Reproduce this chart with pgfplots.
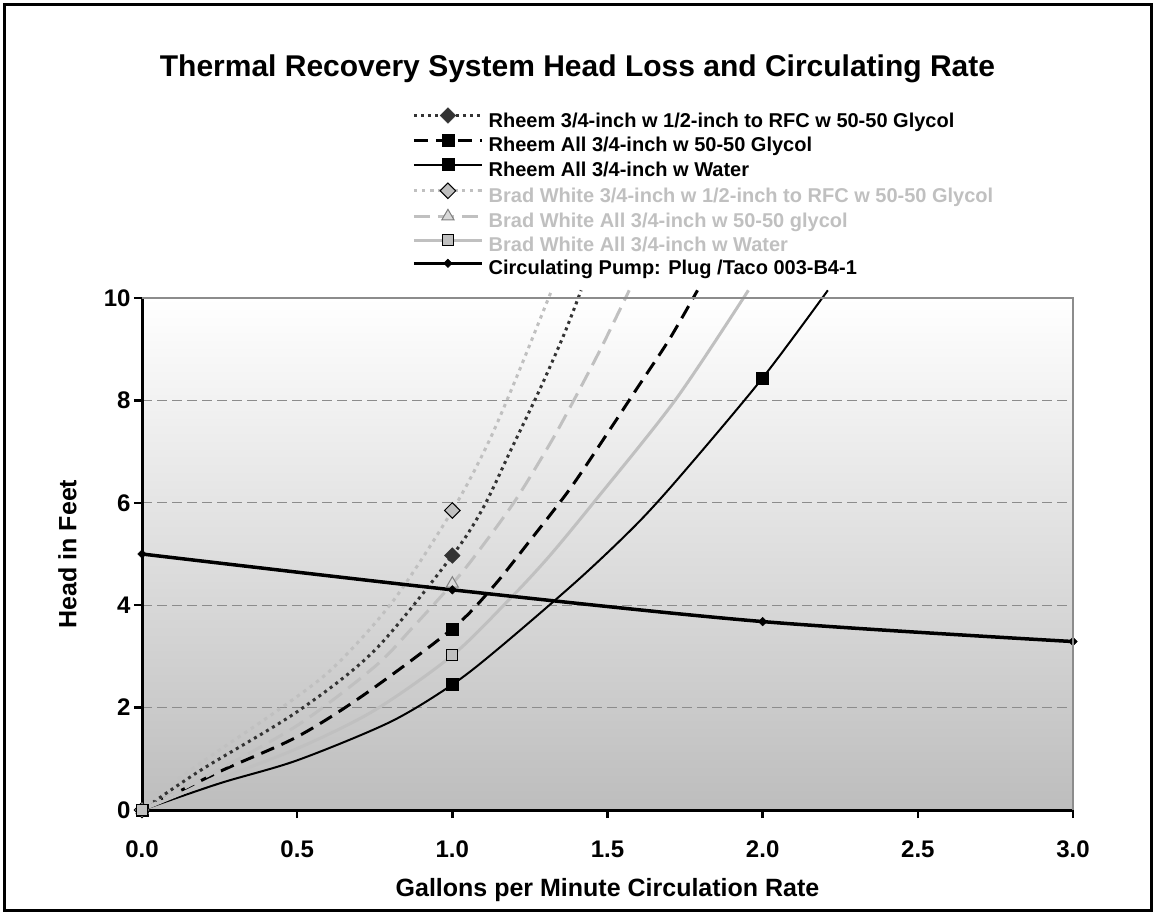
\documentclass[border=0pt]{standalone}
\usepackage{fontspec}
\setmainfont{Liberation Sans}
\usepackage{pgfplots}
\pgfplotsset{compat=1.18}
\definecolor{lg}{HTML}{C0C0C0}
\definecolor{dg}{HTML}{333333}
\definecolor{gridc}{HTML}{8C8C8C}
\definecolor{bgb}{HTML}{BDBDBD}
\begin{document}
\begin{tikzpicture}[x=1pt,y=1pt]
\useasboundingbox (0,0) rectangle (1154,914);
\draw[line width=3pt] (4.5,4) rectangle (1151.5,909.7);
\node[font=\fontsize{30}{34}\selectfont\bfseries, anchor=base] at (577.5,837.3) {Thermal Recovery System Head Loss and Circulating Rate};
\begin{axis}[
  at={(142pt,104pt)}, anchor=south west,
  scale only axis, width=931pt, height=512pt,
  xmin=0, xmax=3, ymin=0, ymax=10,
  clip=false,
  axis x line*=bottom, axis y line*=left,
  axis line style={black, line width=3pt, -},
  axis background/.style={shade, top color=white, bottom color=bgb},
  xtick={0,0.5,1,1.5,2,2.5,3},
  xticklabels={0.0,0.5,1.0,1.5,2.0,2.5,3.0},
  ytick={0,2,4,6,8,10},
  yticklabels={0,2,4,6,8,10},
  tick align=outside, major tick length=8pt,
  tick style={black, line width=2.5pt},
  ticklabel style={font=\fontsize{24}{28}\selectfont\bfseries},
  xticklabel style={yshift=-19pt},
  yticklabel style={xshift=0pt},
  ymajorgrids,
  major grid style={gridc, line width=1pt, dash pattern=on 10pt off 5pt},
  xlabel={Gallons per Minute Circulation Rate},
  ylabel={Head in Feet},
  label style={font=\fontsize{25}{29}\selectfont\bfseries},
  xlabel style={at={(axis description cs:0.5,-0.1699)}, anchor=base},
  ylabel style={at={(axis description cs:-0.0705,0.5)}, anchor=base},
  legend cell align=left,
  legend style={at={(axis description cs:0.290,1.372)}, anchor=north west,
    draw=none, fill=none, inner sep=0pt, column sep=5pt,
    font=\fontsize{20}{23}\selectfont\bfseries,
    nodes={inner sep=0pt, text height=16pt, text depth=7pt}},
  legend image code/.code={\draw[#1,mark indices={2}] plot coordinates {(0pt,7pt) (34pt,7pt) (68pt,7pt)};},
  after end axis/.code={\draw[gridc, line width=1.5pt] (rel axis cs:0,1) -- (rel axis cs:1,1) -- (rel axis cs:1,0);},
]
% Rheem 3/4 w 1/2 to RFC glycol
\addplot[dg, line width=3pt, dash pattern=on 3pt off 4pt, smooth,
  mark=square*, mark size=5.5pt, mark indices={1,5},
  mark options={solid, rotate=45, fill=dg, draw=dg, line width=0.5pt}]
  coordinates {(0,0) (0.19,0.78) (0.5,1.92) (0.75,3.12) (1.0,4.97) (1.1,5.91) (1.19,7.05) (1.28,8.19) (1.36,9.29) (1.415,10.15)};
\addlegendentry{Rheem 3/4-inch w 1/2-inch to RFC w 50-50 Glycol}
% Rheem all 3/4 glycol
\addplot[black, line width=3pt, dash pattern=on 14pt off 8pt, smooth,
  mark=square*, mark size=6pt, mark indices={1,5},
  mark options={solid, fill=black, line width=0.5pt}]
  coordinates {(0,0) (0.25,0.75) (0.5,1.43) (0.72,2.27) (1.0,3.54) (1.13,4.35) (1.25,5.26) (1.38,6.28) (1.5,7.36) (1.6,8.28) (1.7,9.2) (1.79,10.15)};
\addlegendentry{Rheem All 3/4-inch w 50-50 Glycol}
% Rheem all 3/4 water
\addplot[black, line width=2pt, smooth,
  mark=square*, mark size=6pt, mark indices={1,5,10},
  mark options={solid, fill=black, line width=0.5pt}]
  coordinates {(0,0) (0.25,0.52) (0.5,0.97) (0.8,1.72) (1.0,2.45) (1.15,3.16) (1.41,4.52) (1.6,5.62) (1.75,6.63) (2.0,8.44) (2.21,10.15)};
\addlegendentry{Rheem All 3/4-inch w Water}
% Brad White 3/4 w 1/2 to RFC glycol
\addplot[lg, line width=3pt, dash pattern=on 3.5pt off 4.5pt, smooth,
  mark=square*, mark size=5.5pt, mark indices={1,6},
  mark options={solid, rotate=45, fill=lg, draw=black, line width=1pt}]
  coordinates {(0,0) (0.15,0.75) (0.45,2.0) (0.62,2.8) (0.81,4.09) (1.0,5.85) (1.11,7.1) (1.2,8.35) (1.32,10.15)};
\addlegendentry{\textcolor{lg}{Brad White 3/4-inch w 1/2-inch to RFC w 50-50 Glycol}}
% Brad White all 3/4 glycol
\addplot[lg, line width=3pt, dash pattern=on 16pt off 8pt, smooth,
  mark=triangle*, mark size=7pt, mark indices={1,6},
  mark options={solid, fill=lg!60!white, draw=gray, line width=1pt}]
  coordinates {(0,0) (0.19,0.6) (0.5,1.65) (0.75,2.8) (0.87,3.55) (1.0,4.42) (1.07,4.94) (1.2,6.02) (1.32,7.21) (1.4,8.1) (1.48,9.03) (1.57,10.15)};
\addlegendentry{\textcolor{lg}{Brad White All 3/4-inch w 50-50 glycol}}
% Brad White all 3/4 water
\addplot[lg, line width=3pt, smooth,
  mark=square*, mark size=5.5pt, mark indices={1,5},
  mark options={solid, fill=lg, draw=black, line width=1pt}]
  coordinates {(0,0) (0.2,0.5) (0.5,1.2) (0.75,1.95) (1.0,3.02) (1.18,4.09) (1.31,4.94) (1.46,6.04) (1.72,8.02) (1.954,10.15)};
\addlegendentry{\textcolor{lg}{Brad White All 3/4-inch w Water}}
% Circulating pump
\addplot[black, line width=3.5pt, smooth,
  mark=square*, mark size=3pt,
  mark options={solid, rotate=45, fill=black, line width=0.5pt}]
  coordinates {(0,5.0) (1,4.3) (2,3.68) (3,3.29)};
\addlegendentry{Circulating Pump: Plug /Taco 003-B4-1}
\end{axis}
\end{tikzpicture}
\end{document}
